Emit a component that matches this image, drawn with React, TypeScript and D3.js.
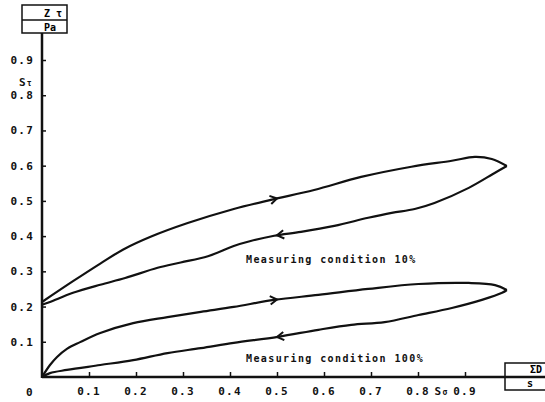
import * as React from "react";
import * as d3 from "d3";

// tick values
const xTicks = [0.1, 0.2, 0.3, 0.4, 0.5, 0.6, 0.7, 0.8, 0.9];
const yTicks = [0.1, 0.2, 0.3, 0.4, 0.5, 0.6, 0.7, 0.8, 0.9];

// measuring condition 10% : loading branch, then unloading branch
const loop10Up: [number, number][] = [
  [0, 0.213], [0.066, 0.272], [0.124, 0.322], [0.173, 0.362], [0.231, 0.398],
  [0.31, 0.437], [0.408, 0.477], [0.487, 0.503], [0.579, 0.531], [0.679, 0.568],
  [0.786, 0.597], [0.872, 0.614], [0.921, 0.625], [0.957, 0.619], [0.989, 0.599],
];
const loop10Down: [number, number][] = [
  [0.989, 0.599], [0.964, 0.58], [0.908, 0.537], [0.835, 0.494], [0.793, 0.477],
  [0.744, 0.466], [0.694, 0.452], [0.622, 0.429], [0.551, 0.412], [0.494, 0.401],
  [0.444, 0.386], [0.408, 0.372], [0.353, 0.343], [0.295, 0.325], [0.246, 0.31],
  [0.177, 0.281], [0.124, 0.262], [0.066, 0.239], [0.017, 0.213], [0, 0.205],
];

// measuring condition 100%
const loop100Up: [number, number][] = [
  [0, 0], [0.017, 0.034], [0.032, 0.057], [0.053, 0.08], [0.081, 0.099],
  [0.124, 0.125], [0.194, 0.153], [0.267, 0.17], [0.338, 0.185], [0.408, 0.199],
  [0.494, 0.219], [0.588, 0.233], [0.694, 0.25], [0.801, 0.264], [0.908, 0.267],
  [0.964, 0.261], [0.989, 0.247],
];
const loop100Down: [number, number][] = [
  [0.989, 0.247], [0.979, 0.239], [0.936, 0.219], [0.872, 0.196], [0.801, 0.176],
  [0.729, 0.156], [0.658, 0.148], [0.588, 0.134], [0.502, 0.114], [0.408, 0.097],
  [0.338, 0.082], [0.267, 0.068], [0.194, 0.048], [0.124, 0.034], [0.053, 0.02],
  [0.017, 0.011], [0, 0],
];

// direction arrows: which branch, at which x
const arrows = [
  { branch: loop10Up, x: 0.5 },
  { branch: loop10Down, x: 0.5 },
  { branch: loop100Up, x: 0.5 },
  { branch: loop100Down, x: 0.5 },
];

const notes = [
  { text: "Measuring condition 10%", x: 0.434, y: 0.324 },
  { text: "Measuring condition 100%", x: 0.434, y: 0.043 },
];

const FONT = "'DejaVu Sans Mono', monospace";

function drawChart(svgRef: React.RefObject<SVGSVGElement | null>) {
  const width = 545;
  const height = 402;
  const svg = d3.select(svgRef.current);
  svg.selectAll("*").remove();
  svg.attr("width", width).attr("height", height);

  const x0 = 42;
  const y0 = 377;
  const xScale = d3.scaleLinear().domain([0, 0.9]).range([x0, 465]);
  const yScale = d3.scaleLinear().domain([0, 0.9]).range([y0, 60]);

  const ink = "#111";

  // unit box top-left
  const top = svg.append("g").attr("stroke", ink).attr("fill", "none");
  top.append("rect").attr("x", 22).attr("y", 5).attr("width", 45).attr("height", 28).attr("stroke-width", 1.5);
  top.append("line").attr("x1", 22).attr("x2", 67).attr("y1", 20).attr("y2", 20).attr("stroke-width", 1.5);
  svg.append("text").attr("x", 53).attr("y", 17).text("Z τ")
    .attr("font-family", FONT).attr("font-size", 10).attr("font-weight", "bold").attr("text-anchor", "middle");
  svg.append("text").attr("x", 50).attr("y", 31).text("Pa")
    .attr("font-family", FONT).attr("font-size", 10).attr("font-weight", "bold").attr("text-anchor", "middle");

  // unit box bottom-right
  const br = svg.append("g").attr("stroke", ink).attr("fill", "none");
  br.append("rect").attr("x", 505).attr("y", y0 - 14).attr("width", 42).attr("height", 27).attr("stroke-width", 1.5);
  svg.append("text").attr("x", 536).attr("y", y0 - 4).text("ΣD")
    .attr("font-family", FONT).attr("font-size", 10).attr("font-weight", "bold").attr("text-anchor", "middle");
  svg.append("text").attr("x", 530).attr("y", y0 + 10).text("s")
    .attr("font-family", FONT).attr("font-size", 10).attr("font-weight", "bold").attr("text-anchor", "middle");

  // axes
  svg.append("line").attr("x1", x0).attr("x2", x0).attr("y1", 33).attr("y2", y0 + 1)
    .attr("stroke", ink).attr("stroke-width", 2.5);
  svg.append("line").attr("x1", x0).attr("x2", 545).attr("y1", y0).attr("y2", y0)
    .attr("stroke", ink).attr("stroke-width", 2.5);

  const yAxis = d3.axisRight(yScale).tickValues(yTicks).tickSize(4).tickFormat(() => "");
  svg.append("g").attr("transform", `translate(${x0},0)`).call(yAxis)
    .call((g) => g.select(".domain").remove())
    .call((g) => g.selectAll("line").attr("stroke", ink).attr("stroke-width", 1.5));

  const xAxis = d3.axisTop(xScale).tickValues(xTicks).tickSize(5).tickFormat(() => "");
  svg.append("g").attr("transform", `translate(0,${y0})`).call(xAxis)
    .call((g) => g.select(".domain").remove())
    .call((g) => g.selectAll("line").attr("stroke", ink).attr("stroke-width", 1.5));

  const labelStyle = (s: d3.Selection<SVGTextElement, any, any, any>) =>
    s.attr("font-family", FONT).attr("font-size", 11).attr("font-weight", "bold")
      .attr("letter-spacing", 1.2).attr("fill", ink);

  svg.append("g").selectAll("text").data(yTicks).join("text")
    .attr("x", 34).attr("y", (d) => yScale(d) + 4).attr("text-anchor", "end")
    .text((d) => d.toFixed(1)).call(labelStyle);

  svg.append("g").selectAll("text").data(xTicks).join("text")
    .attr("x", (d) => xScale(d)).attr("y", 395).attr("text-anchor", "middle")
    .text((d) => d.toFixed(1)).call(labelStyle);

  svg.append("text").attr("x", 30).attr("y", 396).attr("text-anchor", "middle").text("0").call(labelStyle);

  // axis names
  svg.append("text").attr("x", 19).attr("y", 86).text("S").call(labelStyle)
    .append("tspan").attr("font-size", 8).text("τ");
  svg.append("text").attr("x", xScale(0.85)).attr("y", 395).attr("text-anchor", "middle").text("S").call(labelStyle)
    .append("tspan").attr("font-size", 8).text("σ");

  // loops
  const line = d3.line<[number, number]>()
    .x((d) => xScale(d[0]))
    .y((d) => yScale(d[1]))
    .curve(d3.curveCatmullRom.alpha(0.5));

  [loop10Up, loop10Down, loop100Up, loop100Down].forEach((branch) => {
    svg.append("path").attr("d", line(branch)).attr("fill", "none")
      .attr("stroke", ink).attr("stroke-width", 2.2).attr("stroke-linejoin", "round");
  });

  // chevron arrows along the branches
  arrows.forEach(({ branch, x }) => {
    const pts = branch.map(([a, b]) => [xScale(a), yScale(b)]);
    const px = xScale(x);
    let i = 0;
    for (let k = 0; k < pts.length - 1; k++) {
      const lo = Math.min(pts[k][0], pts[k + 1][0]);
      const hi = Math.max(pts[k][0], pts[k + 1][0]);
      if (px >= lo && px <= hi) { i = k; break; }
    }
    const [ax, ay] = pts[i];
    const [bx, by] = pts[i + 1];
    const t = (px - ax) / (bx - ax);
    const py = ay + t * (by - ay);
    const ang = Math.atan2(by - ay, bx - ax);
    const len = 8;
    const spread = 0.55;
    const p1 = [px - len * Math.cos(ang - spread), py - len * Math.sin(ang - spread)];
    const p2 = [px - len * Math.cos(ang + spread), py - len * Math.sin(ang + spread)];
    svg.append("path")
      .attr("d", `M${p1[0]},${p1[1]}L${px},${py}L${p2[0]},${p2[1]}`)
      .attr("fill", "none").attr("stroke", ink).attr("stroke-width", 2);
  });

  svg.append("g").selectAll("text").data(notes).join("text")
    .attr("x", (d) => xScale(d.x)).attr("y", (d) => yScale(d.y))
    .text((d) => d.text)
    .attr("font-family", FONT).attr("font-size", 10).attr("font-weight", "bold")
    .attr("letter-spacing", 1.4).attr("fill", ink);
}

export default function App() {
  const svg = React.useRef<SVGSVGElement>(null);
  React.useEffect(() => {
    drawChart(svg);
  }, []);
  return (
    <svg ref={svg} style={{ position: "absolute", left: 0, top: 0, background: "#fff" }} />
  );
}
